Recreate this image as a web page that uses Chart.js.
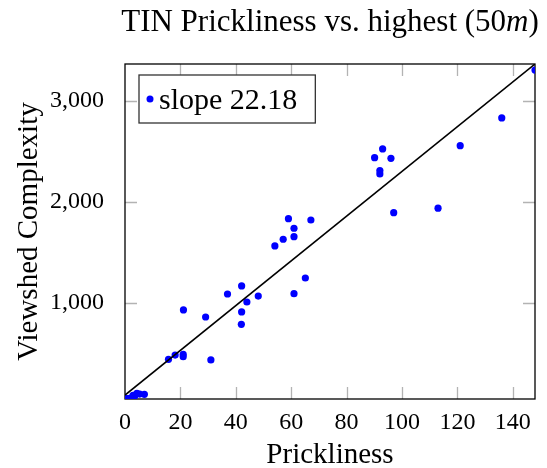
<!DOCTYPE html>
<html>
<head>
<meta charset="utf-8">
<script src="https://cdn.jsdelivr.net/npm/chart.js@4.4.0/dist/chart.umd.min.js"></script>
<style>
  body { margin: 0; background: #fff; }
  canvas { display: block; }
</style>
</head>
<body>
<canvas id="myChart" width="547" height="468"></canvas>
<script>
// data
var prickliness = [0, 1, 2, 2.4, 2.9, 3.5, 4.3, 5.3, 7, 15.7, 18.1, 21, 21, 21.1, 29.1, 31, 37, 42, 42.1, 42.1,
  44, 48.1, 54.1, 57.1, 59, 61, 61, 61, 65.1, 67.1, 90.1, 92, 92, 93, 96, 97, 113, 121, 136, 148];
var complexity = [52, 50, 55, 45, 81, 74, 101, 94, 91, 438, 481, 488, 464, 928, 858, 432, 1086, 786, 1166, 908,
  1007, 1066, 1563, 1629, 1833, 1738, 1655, 1089, 1245, 1820, 2438, 2310, 2277, 2525, 2432, 1893, 1937, 2557, 2832, 3307];

var slope = 22.18;
var intercept = 84;
var xTicks = [0, 20, 40, 60, 80, 100, 120, 140];
var yTicks = [1000, 2000, 3000];
var xMin = 0, xMax = 148;
var yMin = 45, yMax = 3367;

var serif = "'Liberation Serif', 'Times New Roman', serif";

var points = prickliness.map(function (x, i) {
  return { x: x, y: complexity[i] };
});
var fitLine = [
  { x: xMin, y: intercept + slope * xMin },
  { x: xMax, y: intercept + slope * xMax },
];

// pgfplots style: frame + ticks pointing inwards
var framePlugin = {
  id: "frame",
  beforeDatasetsDraw: function (chart) {
    var ctx = chart.ctx;
    var a = chart.chartArea;
    var xs = chart.scales.x, ys = chart.scales.y;
    var len = 12;
    ctx.save();
    ctx.strokeStyle = "#b3b3b3";
    ctx.lineWidth = 1.3;
    ctx.beginPath();
    xTicks.forEach(function (v) {
      var px = Math.round(xs.getPixelForValue(v)) + 0.5;
      if (v === xMin) return;
      ctx.moveTo(px, a.bottom); ctx.lineTo(px, a.bottom - len);
      ctx.moveTo(px, a.top); ctx.lineTo(px, a.top + len);
    });
    yTicks.forEach(function (v) {
      var py = Math.round(ys.getPixelForValue(v)) + 0.5;
      ctx.moveTo(a.left, py); ctx.lineTo(a.left + len, py);
      ctx.moveTo(a.right, py); ctx.lineTo(a.right - len, py);
    });
    ctx.stroke();
    ctx.strokeStyle = "#000";
    ctx.lineWidth = 1.3;
    ctx.strokeRect(a.left, a.top, a.right - a.left, a.bottom - a.top);
    ctx.restore();
  },
};

// title with italic m, and the legend box inside the plot
var textPlugin = {
  id: "texts",
  afterDraw: function (chart) {
    var ctx = chart.ctx;
    var a = chart.chartArea;
    ctx.save();
    ctx.fillStyle = "#000";
    ctx.textBaseline = "alphabetic";
    var parts = [
      { t: "TIN Prickliness vs. highest (50", f: "31px " + serif },
      { t: "m", f: "italic 31px " + serif },
      { t: ")", f: "31px " + serif },
    ];
    var total = 0;
    parts.forEach(function (p) { ctx.font = p.f; p.w = ctx.measureText(p.t).width; total += p.w; });
    var x = (a.left + a.right) / 2 - total / 2;
    parts.forEach(function (p) { ctx.font = p.f; ctx.fillText(p.t, x, 31); x += p.w; });

    // legend
    var ds = chart.data.datasets[0];
    ctx.font = "30px " + serif;
    var tw = ctx.measureText(ds.label).width;
    var bx = 139, by = 75, bh = 48;
    var bw = tw + 38;
    ctx.fillStyle = "#fff";
    ctx.fillRect(bx, by, bw, bh);
    ctx.strokeStyle = "#333";
    ctx.lineWidth = 1.3;
    ctx.strokeRect(bx, by, bw, bh);
    ctx.fillStyle = ds.backgroundColor;
    ctx.beginPath();
    ctx.arc(bx + 11, by + 24, 3.5, 0, Math.PI * 2);
    ctx.fill();
    ctx.fillStyle = "#000";
    ctx.fillText(ds.label, bx + 20, by + 34);
    ctx.restore();
  },
};

var chart = new Chart(document.getElementById("myChart"), {
  type: "scatter",
  data: {
    datasets: [
      {
        label: "slope " + slope.toFixed(2),
        data: points,
        backgroundColor: "rgb(0, 0, 255)",
        borderWidth: 0,
        pointRadius: 3.6,
        order: 1,
      },
      {
        label: "fit",
        type: "line",
        data: fitLine,
        borderColor: "#000",
        borderWidth: 1.6,
        pointRadius: 0,
        fill: false,
        order: 0,
      },
    ],
  },
  options: {
    responsive: false,
    animation: false,
    layout: { padding: { top: 64, right: 12, left: 0, bottom: 0 } },
    plugins: {
      legend: { display: false },
      tooltip: { enabled: false },
    },
    scales: {
      x: {
        type: "linear",
        min: xMin,
        max: xMax,
        grid: { display: false },
        border: { display: false },
        afterBuildTicks: function (s) { s.ticks = xTicks.map(function (v) { return { value: v }; }); },
        afterFit: function (s) { s.height = 69; },
        ticks: { color: "#000", padding: 1, maxRotation: 0, font: { family: serif, size: 24 } },
        title: { display: true, text: "Prickliness", color: "#000", padding: 0, font: { family: serif, size: 29, lineHeight: 0.85 } },
      },
      y: {
        type: "linear",
        min: yMin,
        max: yMax,
        grid: { display: false },
        border: { display: false },
        afterBuildTicks: function (s) { s.ticks = yTicks.map(function (v) { return { value: v }; }); },
        afterFit: function (s) { s.width = 125; },
        ticks: {
          color: "#000",
          padding: 13,
          font: { family: serif, size: 24 },
          callback: function (v) { return v.toLocaleString("en-US"); },
        },
        title: { display: true, text: "Viewshed Complexity", color: "#000", padding: { top: 12 }, font: { family: serif, size: 29 } },
      },
    },
  },
  plugins: [framePlugin, textPlugin],
});
</script>
</body>
</html>
